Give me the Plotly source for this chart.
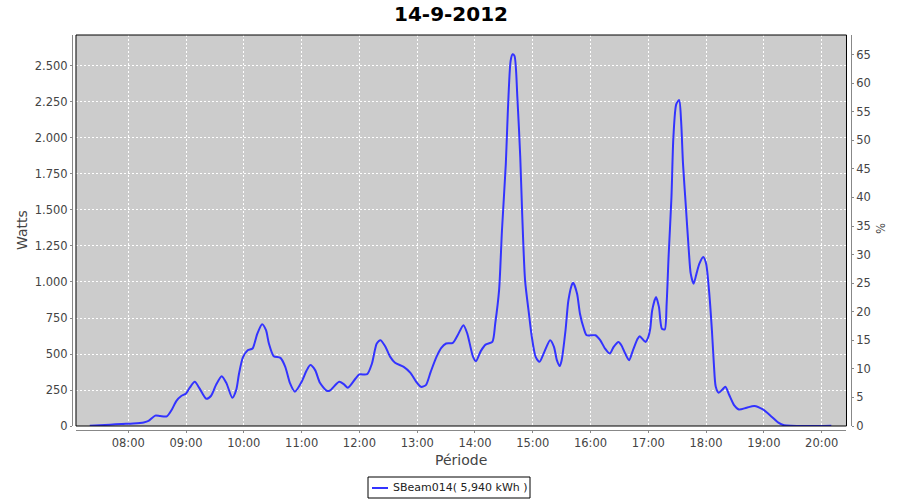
import plotly.graph_objects as go

DATE = "2012-09-14"
TITLE = "14-9-2012"
SERIES_NAME = "SBeam014( 5,940 kWh )"

times = [
    "07:20", "07:41", "07:53", "08:05", "08:16", "08:21", "08:28", "08:33", "08:40", "08:45",
    "08:50", "08:55", "09:00", "09:04", "09:09", "09:14", "09:21", "09:26", "09:31", "09:37",
    "09:42", "09:48", "09:52", "09:55", "09:59", "10:04", "10:09", "10:14", "10:19", "10:23",
    "10:26", "10:31", "10:38", "10:43", "10:48", "10:53", "11:00", "11:05", "11:09", "11:14",
    "11:19", "11:26", "11:29", "11:39", "11:44", "11:48", "11:56", "12:00", "12:08", "12:13",
    "12:18", "12:22", "12:27", "12:32", "12:37", "12:46", "12:53", "12:59", "13:04", "13:09",
    "13:14", "13:20", "13:25", "13:30", "13:37", "13:42", "13:48", "13:52", "13:58", "14:01",
    "14:06", "14:11", "14:18", "14:21", "14:25", "14:28", "14:32", "14:34", "14:37", "14:39",
    "14:41", "14:44", "14:47", "14:49", "14:52", "14:56", "14:59", "15:03", "15:07", "15:12",
    "15:18", "15:22", "15:25", "15:28", "15:30", "15:34", "15:37", "15:41", "15:42", "15:46",
    "15:49", "15:53", "15:56", "16:05", "16:10", "16:15", "16:20", "16:24", "16:29", "16:32",
    "16:36", "16:40", "16:44", "16:49", "16:51", "16:57", "17:00", "17:02", "17:04", "17:08",
    "17:11", "17:14", "17:17", "17:19", "17:21", "17:24", "17:26", "17:29", "17:32", "17:34",
    "17:36", "17:39", "17:42", "17:44", "17:47", "17:50", "17:53", "17:57", "18:00", "18:03",
    "18:06", "18:08", "18:10", "18:13", "18:17", "18:20", "18:24", "18:29", "18:34", "18:42",
    "18:50", "18:59", "19:08", "19:15", "19:21", "20:10",
]

watts = [
    2, 9, 14, 18, 25, 35, 72, 69, 67, 111,
    175, 208, 226, 268, 307, 261, 189, 210, 284, 346,
    296, 196, 249, 365, 476, 526, 538, 642, 707, 665,
    573, 485, 473, 411, 296, 238, 307, 383, 423, 388,
    300, 245, 245, 307, 289, 266, 330, 358, 360, 434,
    573, 596, 550, 480, 439, 411, 369, 307, 272, 284,
    376, 480, 543, 573, 577, 630, 700, 642, 480, 450,
    520, 565, 584, 711, 942, 1358, 1820, 2166, 2535, 2581,
    2570, 2281, 1866, 1473, 1011, 780, 619, 480, 446, 515,
    596, 550, 457, 416, 457, 665, 873, 988, 995, 919,
    780, 677, 630, 630, 596, 538, 503, 550, 584, 561,
    503, 457, 526, 607, 623, 584, 619, 677, 804, 896,
    827, 677, 670, 850, 1173, 1589, 2004, 2235, 2263, 2120,
    1820, 1519, 1219, 1058, 988, 1058, 1127, 1173, 1127, 942,
    665, 434, 272, 231, 254, 272, 215, 145, 115, 127,
    139, 115, 65, 23, 5, 2,
]

x_range = ["07:05:42", "20:25:45"]
watts_range = [0, 2715]
pct_range = [0, 68.43]

x = [f"{DATE} {t}" for t in times]

LINE_COLOR = "#3333FF"
tick_font = dict(family="DejaVu Sans", size=11.5, color="#444444")
axis_grey = "#888888"

# pixel -> paper helpers (paper area: x 72..851, y 35..430)
def px(xp):
    return (xp - 72) / 779

def py(yp):
    return (430 - yp) / 395

fig = go.Figure()
fig.add_trace(go.Scatter(
    x=x, y=watts, mode="lines", name=SERIES_NAME, showlegend=False,
    line=dict(color=LINE_COLOR, width=2, shape="spline", smoothing=0.7),
))
fig.add_trace(go.Scatter(
    x=[x[0]], y=[0], yaxis="y2", mode="lines", showlegend=False,
    hoverinfo="skip", line=dict(width=0),
))

fig.update_layout(
    width=900, height=500,
    margin=dict(l=72, r=49, t=35, b=70, autoexpand=False),
    paper_bgcolor="white",
    plot_bgcolor="#CCCCCC",
    separators=",.",
    xaxis=dict(
        type="date", domain=[0.00513, 0.99422], anchor="free", position=0,
        range=[f"{DATE} {x_range[0]}", f"{DATE} {x_range[1]}"],
        tickformat="%H:%M", dtick=3600000, tick0=f"{DATE} 08:00",
        showgrid=True, gridcolor="white", griddash="2px,2px", gridwidth=1,
        showline=True, linecolor=axis_grey, linewidth=1,
        ticks="outside", ticklen=2, tickcolor=axis_grey,
        tickfont=tick_font, zeroline=False, automargin=False,
    ),
    yaxis=dict(
        domain=[0.0101, 1], anchor="free", position=0,
        range=watts_range, dtick=250, tick0=0, tickformat=",d",
        showgrid=True, gridcolor="white", griddash="2px,2px", gridwidth=1,
        showline=True, linecolor=axis_grey, linewidth=1,
        ticks="outside", ticklen=2, tickcolor=axis_grey,
        tickfont=tick_font, zeroline=False, automargin=False,
    ),
    yaxis2=dict(
        overlaying="y", side="right", anchor="free", position=1,
        range=pct_range, dtick=5, tick0=0,
        showgrid=False, zeroline=False,
        showline=True, linecolor=axis_grey, linewidth=1,
        ticks="outside", ticklen=2, tickcolor=axis_grey,
        tickfont=tick_font, automargin=False,
    ),
)

# plot border
fig.add_shape(type="rect", xref="x domain", yref="y domain",
              x0=0, x1=1, y0=0, y1=1, line=dict(color="black", width=1),
              fillcolor="rgba(0,0,0,0)", layer="above")

# legend box (drawn)
fig.add_shape(type="rect", xref="paper", yref="paper",
              x0=px(368), x1=px(530), y0=py(498), y1=py(477),
              line=dict(color="black", width=1), fillcolor="white")
fig.add_shape(type="line", xref="paper", yref="paper",
              x0=px(372), x1=px(388), y0=py(488), y1=py(488),
              line=dict(color=LINE_COLOR, width=2))
fig.add_annotation(text=SERIES_NAME, xref="paper", yref="paper", x=px(391), y=py(488),
                   xanchor="left", yanchor="middle", showarrow=False,
                   font=dict(family="DejaVu Sans", size=11, color="#222222"))

fig.add_annotation(text=TITLE, xref="paper", yref="paper", x=px(451), y=1,
                   yanchor="middle", yshift=21, showarrow=False,
                   font=dict(family="DejaVu Sans", size=20, color="black", weight="bold"))
fig.add_annotation(text="Watts", xref="paper", yref="paper", x=px(22),
                   y=py(230), yanchor="middle", xanchor="center",
                   textangle=-90, showarrow=False,
                   font=dict(family="DejaVu Sans", size=14, color="#444444"))
fig.add_annotation(text="%", xref="paper", yref="paper", x=px(880),
                   y=py(229), yanchor="middle", xanchor="center",
                   textangle=90, showarrow=False,
                   font=dict(family="DejaVu Sans", size=11.5, color="#444444"))
fig.add_annotation(text="Période", xref="paper", yref="paper", x=px(461),
                   y=py(460), yanchor="middle", xanchor="center",
                   showarrow=False,
                   font=dict(family="DejaVu Sans", size=14, color="#444444"))

fig.write_html("out.html", config={"displayModeBar": False},
               post_script="document.body.style.margin='0';document.body.style.padding='0';")
